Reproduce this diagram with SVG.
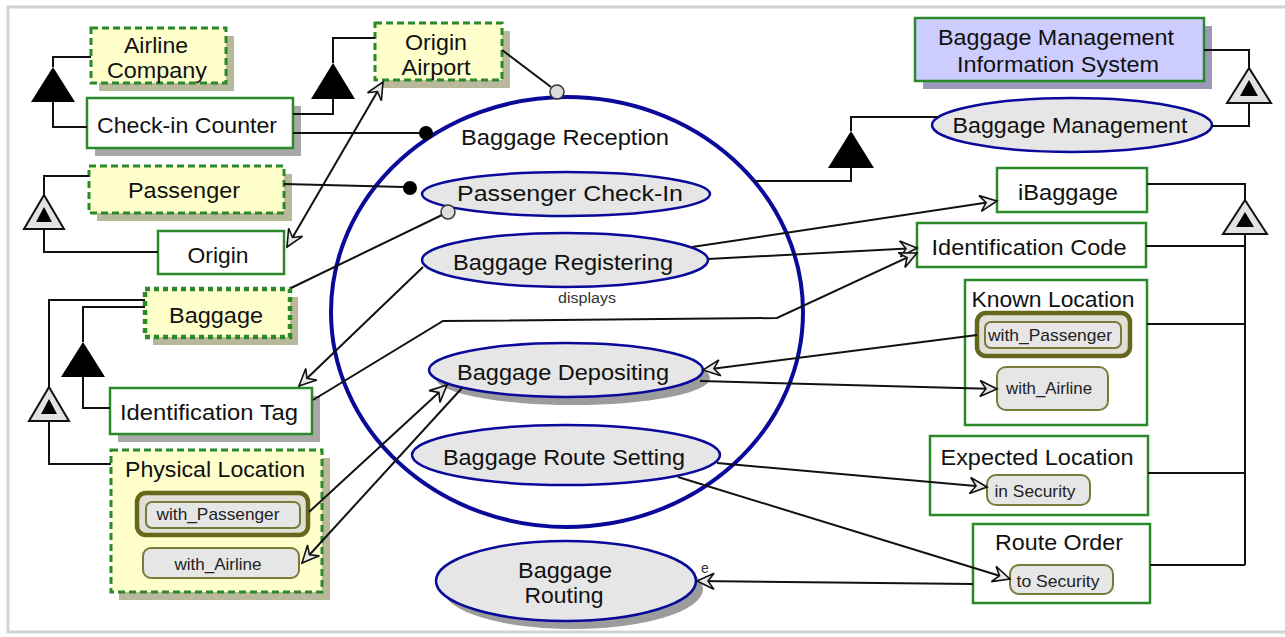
<svg xmlns="http://www.w3.org/2000/svg" width="1285" height="637" viewBox="0 0 1285 637">
  <style>
    text { font-family: "Liberation Sans", Arial, sans-serif; fill: #111; text-anchor: middle; }
    .lbl { font-size: 22px; }
    .sm { font-size: 17px; fill: #222; }
    .tiny { font-size: 14px; fill: #333; }
    .obj { fill: #ffffcc; stroke: #2a8a2a; stroke-width: 3; stroke-dasharray: 7 4; }
    .dot { fill: #ffffcc; stroke: #2a8a2a; stroke-width: 4.5; stroke-dasharray: 5 4; }
    .box { fill: #ffffff; stroke: #2a8a2a; stroke-width: 2.5; }
    .shk { fill: #b8b89a; }
    .shg { fill: #a8a8a8; }
    .shp { fill: #9a9ab8; }
    .proc { fill: #e6e6e6; stroke: #0a0a9a; stroke-width: 2.5; }
    .procsh { fill: #9c9c9c; }
    .state { fill: #e6e6e6; stroke: #7a7a3a; stroke-width: 2; }
    .cur { fill: #e0e0d6; stroke: #66661c; stroke-width: 4.5; }
    .ln { fill: none; stroke: #111; stroke-width: 2; }
    .arr { fill: none; stroke: #111; stroke-width: 2; marker-end: url(#open); }
    .agg { fill: #000; }
    .exo { fill: #e2e2e2; stroke: #111; stroke-width: 2; }
  </style>
  <defs>
    <marker id="open" viewBox="-19 -10 21 20" refX="0" refY="0" markerWidth="21" markerHeight="20" markerUnits="userSpaceOnUse" orient="auto-start-reverse">
      <path d="M0,0 L-17,-8 L-11,0 L-17,8 Z" fill="#e8e8e8" stroke="#111" stroke-width="1.6" stroke-linejoin="miter"/>
    </marker>
  </defs>

  <!-- canvas and frame -->
  <rect x="0" y="0" width="1285" height="637" fill="#ffffff"/>
  <rect x="8" y="7" width="1290" height="625" fill="#ffffff" stroke="#d2d2d2" stroke-width="3"/>

  <!-- in-zoomed process that contains the sub-processes -->
  <g id="baggage-reception">
    <ellipse cx="567" cy="312" rx="236" ry="215" fill="none" stroke="#0a0a9a" stroke-width="4"/>
    <text class="lbl" x="565" y="145" textLength="208" lengthAdjust="spacingAndGlyphs">Baggage Reception</text>
  </g>

  <!-- objects, left column -->
  <g id="airline-company">
    <rect class="shk" x="99" y="36" width="135" height="55"/>
    <rect class="obj" x="91" y="28" width="135" height="55"/>
    <text class="lbl" x="156" y="53" textLength="64" lengthAdjust="spacingAndGlyphs">Airline</text>
    <text class="lbl" x="157" y="78" textLength="100" lengthAdjust="spacingAndGlyphs">Company</text>
  </g>
  <g id="check-in-counter">
    <rect class="shg" x="95" y="106" width="206" height="50"/>
    <rect class="box" x="87" y="98" width="206" height="50"/>
    <text class="lbl" x="187" y="133" textLength="180" lengthAdjust="spacingAndGlyphs">Check-in Counter</text>
  </g>
  <g id="passenger">
    <rect class="shk" x="97" y="174" width="195" height="47"/>
    <rect class="obj" x="89" y="166" width="195" height="47"/>
    <text class="lbl" x="184" y="198" textLength="112" lengthAdjust="spacingAndGlyphs">Passenger</text>
  </g>
  <g id="origin">
    <rect class="box" x="158" y="231" width="126" height="43"/>
    <text class="lbl" x="218" y="263" textLength="61" lengthAdjust="spacingAndGlyphs">Origin</text>
  </g>
  <g id="baggage">
    <rect class="shk" x="153" y="297" width="145" height="48"/>
    <rect class="dot" x="145" y="289" width="145" height="48"/>
    <text class="lbl" x="216" y="323" textLength="94" lengthAdjust="spacingAndGlyphs">Baggage</text>
  </g>
  <g id="identification-tag">
    <rect class="shg" x="118" y="396" width="202" height="46"/>
    <rect class="box" x="110" y="388" width="202" height="46"/>
    <text class="lbl" x="209" y="420" textLength="178" lengthAdjust="spacingAndGlyphs">Identification Tag</text>
  </g>
  <g id="physical-location">
    <rect class="shk" x="119" y="458" width="211" height="142"/>
    <rect class="obj" x="111" y="450" width="211" height="142"/>
    <text class="lbl" x="215" y="477" textLength="180" lengthAdjust="spacingAndGlyphs">Physical Location</text>
    <rect class="cur" x="137" y="493" width="171" height="42" rx="9"/>
    <rect class="state" x="146" y="502" width="154" height="26" rx="6" stroke-width="1.5"/>
    <text class="sm" x="218" y="520" textLength="123" lengthAdjust="spacingAndGlyphs">with_Passenger</text>
    <rect class="state" x="143" y="548" width="156" height="30" rx="8"/>
    <text class="sm" x="218" y="570" textLength="87" lengthAdjust="spacingAndGlyphs">with_Airline</text>
  </g>
  <g id="origin-airport">
    <rect class="shk" x="383" y="31" width="127" height="57"/>
    <rect class="obj" x="375" y="23" width="127" height="57"/>
    <text class="lbl" x="436" y="50" textLength="62" lengthAdjust="spacingAndGlyphs">Origin</text>
    <text class="lbl" x="436" y="75" textLength="69" lengthAdjust="spacingAndGlyphs">Airport</text>
  </g>

  <!-- sub-processes -->
  <g id="passenger-check-in">
    <ellipse class="proc" cx="566" cy="194" rx="144" ry="22"/>
    <text class="lbl" x="570" y="201" textLength="226" lengthAdjust="spacingAndGlyphs">Passenger Check-In</text>
  </g>
  <g id="baggage-registering">
    <ellipse class="proc" cx="565" cy="260" rx="143" ry="27"/>
    <text class="lbl" x="563" y="270" textLength="220" lengthAdjust="spacingAndGlyphs">Baggage Registering</text>
  </g>
  <g id="baggage-depositing">
    <ellipse class="procsh" cx="573" cy="378" rx="137" ry="27"/>
    <ellipse class="proc" cx="566" cy="370" rx="137" ry="27"/>
    <text class="lbl" x="563" y="380" textLength="212" lengthAdjust="spacingAndGlyphs">Baggage Depositing</text>
  </g>
  <g id="baggage-route-setting">
    <ellipse class="proc" cx="566" cy="455" rx="154" ry="30"/>
    <text class="lbl" x="564" y="465" textLength="242" lengthAdjust="spacingAndGlyphs">Baggage Route Setting</text>
  </g>
  <g id="baggage-routing">
    <ellipse class="procsh" cx="573" cy="589" rx="130" ry="40"/>
    <ellipse class="proc" cx="566" cy="581" rx="130" ry="40" stroke-width="4"/>
    <text class="lbl" x="565" y="578" textLength="94" lengthAdjust="spacingAndGlyphs">Baggage</text>
    <text class="lbl" x="564" y="603" textLength="79" lengthAdjust="spacingAndGlyphs">Routing</text>
  </g>

  <!-- system and right column -->
  <g id="bmis">
    <rect class="shp" x="923" y="26" width="289" height="63"/>
    <rect x="915" y="18" width="289" height="63" fill="#ccccff" stroke="#2a8a2a" stroke-width="2.5"/>
    <text class="lbl" x="1056" y="45" textLength="236" lengthAdjust="spacingAndGlyphs">Baggage Management</text>
    <text class="lbl" x="1058" y="72" textLength="202" lengthAdjust="spacingAndGlyphs">Information System</text>
  </g>
  <g id="baggage-management">
    <ellipse class="proc" cx="1072" cy="125" rx="140" ry="27"/>
    <text class="lbl" x="1070" y="133" textLength="235" lengthAdjust="spacingAndGlyphs">Baggage Management</text>
  </g>
  <g id="ibaggage">
    <rect class="box" x="997" y="168" width="150" height="44" stroke-width="4"/>
    <text class="lbl" x="1068" y="200" textLength="100" lengthAdjust="spacingAndGlyphs">iBaggage</text>
  </g>
  <g id="identification-code">
    <rect class="box" x="917" y="223" width="229" height="44"/>
    <text class="lbl" x="1029" y="255" textLength="195" lengthAdjust="spacingAndGlyphs">Identification Code</text>
  </g>
  <g id="known-location">
    <rect class="box" x="965" y="280" width="182" height="145"/>
    <text class="lbl" x="1053" y="307" textLength="163" lengthAdjust="spacingAndGlyphs">Known Location</text>
    <rect class="cur" x="977" y="313" width="153" height="43" rx="9"/>
    <rect class="state" x="985" y="322" width="136" height="26" rx="6" stroke-width="1.5"/>
    <text class="sm" x="1050" y="341" textLength="124" lengthAdjust="spacingAndGlyphs">with_Passenger</text>
    <rect class="state" x="997" y="367" width="111" height="43" rx="9"/>
    <text class="sm" x="1049" y="394" textLength="86" lengthAdjust="spacingAndGlyphs">with_Airline</text>
  </g>
  <g id="expected-location">
    <rect class="box" x="930" y="436" width="218" height="79"/>
    <text class="lbl" x="1037" y="465" textLength="193" lengthAdjust="spacingAndGlyphs">Expected Location</text>
    <rect class="state" x="987" y="475" width="103" height="30" rx="9"/>
    <text class="sm" x="1035" y="497" textLength="81" lengthAdjust="spacingAndGlyphs">in Security</text>
  </g>
  <g id="route-order">
    <rect class="box" x="973" y="524" width="177" height="79"/>
    <text class="lbl" x="1059" y="550" textLength="128" lengthAdjust="spacingAndGlyphs">Route Order</text>
    <rect class="state" x="1010" y="565" width="103" height="29" rx="9"/>
    <text class="sm" x="1058" y="587" textLength="83" lengthAdjust="spacingAndGlyphs">to Security</text>
  </g>

  <!-- links, drawn over the nodes so heads inside composite boxes stay visible -->
  <g id="connectors">
    <!-- aggregation (black triangles) -->
    <path class="ln" d="M91,57 H53 V67 M53,102 V127 H87"/>
    <polygon class="agg" points="53,67 31,102 75,102"/>
    <path class="ln" d="M375,38 H333 V63 M333,99 V114 H293"/>
    <polygon class="agg" points="333,63 311,99 355,99"/>
    <path class="ln" d="M145,307 H83 V342 M83,377 V408 H110"/>
    <polygon class="agg" points="83,342 61,377 105,377"/>
    <path class="ln" d="M938,117 H851 V131 M851,168 V181 H754"/>
    <polygon class="agg" points="851,131 828,168 874,168"/>

    <!-- exhibition (triangle with inner triangle) -->
    <path class="ln" d="M89,176 H44 V195 M44,229 V252 H158"/>
    <polygon class="exo" points="44,195 24,229 64,229"/>
    <polygon class="agg" points="44,207 36,222 52,222"/>
    <path class="ln" d="M145,300 H49 V387 M49,421 V464 H111"/>
    <polygon class="exo" points="49,387 29,421 69,421"/>
    <polygon class="agg" points="49,399 41,414 57,414"/>
    <path class="ln" d="M1204,50 H1249 V68 M1249,103 V126 H1212"/>
    <polygon class="exo" points="1249,68 1227,103 1271,103"/>
    <polygon class="agg" points="1249,80 1240,96 1258,96"/>
    <path class="ln" d="M1147,184 H1245 V200 M1146,246 H1245 M1147,324 H1245 M1148,473 H1245 M1150,565 H1245"/>
    <path class="ln" d="M1245,234 V565" stroke-width="2.6"/>
    <polygon class="exo" points="1245,200 1223,234 1267,234"/>
    <polygon class="agg" points="1245,212 1236,227 1254,227"/>

    <!-- agent and instrument links -->
    <path class="ln" d="M293,133 L420,133"/>
    <circle cx="426" cy="133" r="7" fill="#000"/>
    <path class="ln" d="M284,184 L404,187"/>
    <circle cx="410" cy="188" r="7" fill="#000"/>
    <path class="ln" d="M502,50 L551,87"/>
    <circle cx="557" cy="92" r="7" fill="#dcdcdc" stroke="#333" stroke-width="1.5"/>
    <path class="ln" d="M291,288 L442,215"/>
    <circle cx="448" cy="212" r="7" fill="#dcdcdc" stroke="#333" stroke-width="1.5"/>

    <!-- bidirectional and result / effect links -->
    <path class="arr" d="M287,247 L383,82" marker-start="url(#open)"/>
    <path class="arr" d="M692,247 L997,201"/>
    <path class="arr" d="M708,259 L917,248"/>
    <path class="arr" d="M313,400 L443,321 L777,318 L917,253"/>
    <path class="arr" d="M423,267 L299,386"/>
    <path class="arr" d="M309,512 L447,385"/>
    <path class="arr" d="M462,388 L302,563"/>
    <path class="arr" d="M977,335 L703,370"/>
    <path class="arr" d="M700,381 L997,389"/>
    <path class="arr" d="M717,463 L987,487"/>
    <path class="arr" d="M678,477 L1010,579"/>
    <path class="arr" d="M973,584 L697,581"/>
    <text class="tiny" x="587" y="303" textLength="58" lengthAdjust="spacingAndGlyphs">displays</text>
    <text class="tiny" x="705" y="573">e</text>
  </g>
</svg>
